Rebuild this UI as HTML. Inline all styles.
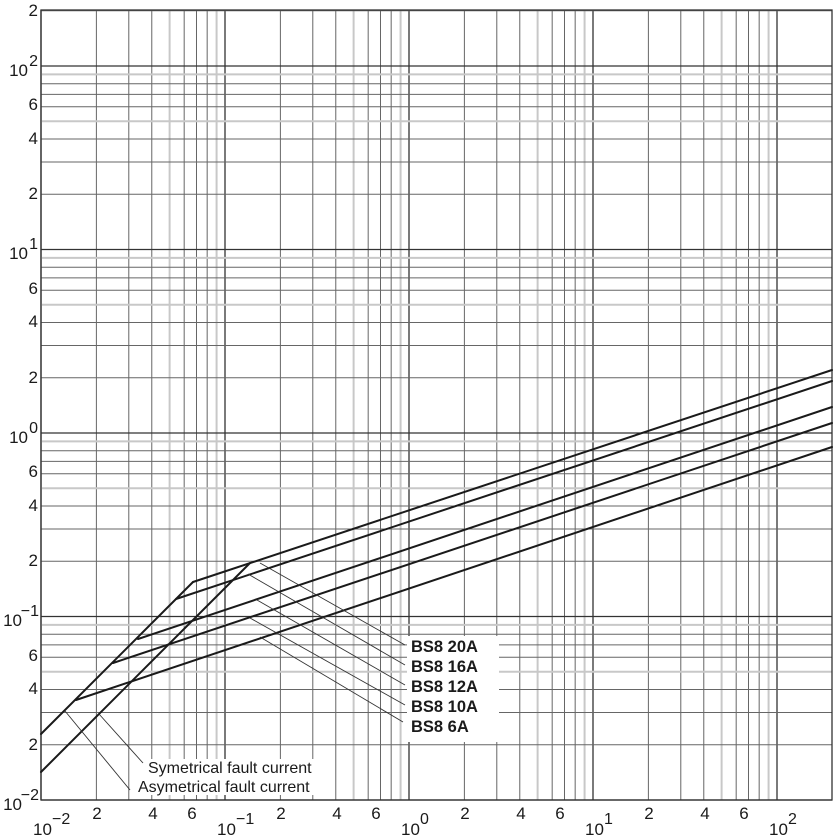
<!DOCTYPE html>
<html><head><meta charset="utf-8"><style>
html,body{margin:0;padding:0;background:#fff;}
svg{display:block;font-family:"Liberation Sans",Arial,sans-serif;}
</style></head><body>
<svg id="s" width="833" height="837" viewBox="0 0 833 837" xmlns="http://www.w3.org/2000/svg">
<g id="grid"></g>
<rect x="41" y="10" width="791" height="790" fill="none" stroke="#333" stroke-width="1.3"/>
<g stroke="#1a1a1a" stroke-width="2" fill="none" stroke-linecap="round">
<polyline points="41,734 193,582"/>
<polyline points="41,772 250,563"/>
<polyline points="193,582 832,370"/>
<polyline points="176,599 832,381"/>
<polyline points="138,639 832,407"/>
<polyline points="113,663 832,423"/>
<polyline points="76,700 832,447"/>
</g>
<g stroke="#333" stroke-width="0.9">
<line x1="260" y1="563" x2="405" y2="645"/>
<line x1="248" y1="574" x2="405" y2="665"/>
<line x1="257" y1="600" x2="405" y2="685"/>
<line x1="250" y1="618" x2="405" y2="705"/>
<line x1="260" y1="637" x2="403" y2="722"/>
<line x1="99" y1="714" x2="143" y2="763"/>
<line x1="65" y1="711" x2="130" y2="790"/>
</g>
<rect x="407" y="636" width="92" height="106" fill="#fff"/>
<g font-size="16.5" font-weight="bold" fill="#1a1a1a">
<text x="411" y="652">BS8 20A</text>
<text x="411" y="672">BS8 16A</text>
<text x="411" y="692">BS8 12A</text>
<text x="411" y="712">BS8 10A</text>
<text x="411" y="732">BS8 6A</text>
</g>
<g font-size="16" fill="#1a1a1a">
<rect x="145" y="759" width="172" height="36" fill="#fff"/>
<text x="148" y="773">Symetrical fault current</text>
<text x="138" y="792">Asymetrical fault current</text>
</g>
<g font-size="17" fill="#1a1a1a" text-anchor="end">
<text x="38" y="16">2</text>
<text x="28" y="76">10</text><text x="38" y="66" font-size="16">2</text>
<text x="38" y="110">6</text>
<text x="38" y="144">4</text>
<text x="38" y="199">2</text>
<text x="28" y="259">10</text><text x="38" y="249" font-size="16">1</text>
<text x="38" y="294">6</text>
<text x="38" y="327">4</text>
<text x="38" y="383">2</text>
<text x="28" y="443">10</text><text x="38" y="433" font-size="16">0</text>
<text x="38" y="477">6</text>
<text x="38" y="511">4</text>
<text x="38" y="566">2</text>
<text x="22" y="626">10</text><text x="39" y="616" font-size="16">−1</text>
<text x="38" y="661">6</text>
<text x="38" y="694">4</text>
<text x="38" y="750">2</text>
<text x="22" y="810">10</text><text x="39" y="800" font-size="16">−2</text>
</g>
<g font-size="17" fill="#1a1a1a" text-anchor="middle">
<text x="97" y="819">2</text><text x="153" y="819">4</text><text x="192" y="819">6</text>
<text x="281" y="819">2</text><text x="337" y="819">4</text><text x="376" y="819">6</text>
<text x="465" y="819">2</text><text x="521" y="819">4</text><text x="560" y="819">6</text>
<text x="649" y="819">2</text><text x="705" y="819">4</text><text x="744" y="819">6</text>
</g>
<g font-size="17" fill="#1a1a1a">
<text x="33" y="835">10</text><text x="52" y="824" font-size="16">−2</text>
<text x="217" y="835">10</text><text x="236" y="824" font-size="16">−1</text>
<text x="401" y="835">10</text><text x="420" y="824" font-size="16">0</text>
<text x="585" y="835">10</text><text x="604" y="824" font-size="16">1</text>
<text x="769" y="835">10</text><text x="788" y="824" font-size="16">2</text>
</g>
</svg>
<script>
(function(){
var g=document.getElementById('grid'),ns='http://www.w3.org/2000/svg';
function L(x1,y1,x2,y2,c,w){var l=document.createElementNS(ns,'line');l.setAttribute('x1',x1);l.setAttribute('y1',y1);l.setAttribute('x2',x2);l.setAttribute('y2',y2);l.setAttribute('stroke',c);l.setAttribute('stroke-width',w);g.appendChild(l);}
function sty(m){if(m==1)return ['#333',1.3];if(m==5||m==9)return ['#c8c8c8',2];return ['#666',1];}
for(var d=-2;d<=2;d++)for(var m=1;m<=9;m++){var x=41+184*(d+2+Math.log10(m));if(x>832)continue;var s=sty(m);L(x,10,x,800,s[0],s[1]);}
for(var d=-2;d<=2;d++)for(var m=1;m<=9;m++){var y=66+183.5*(2-d-Math.log10(m));if(y<10||y>800)continue;var s=sty(m);L(41,y,832,y,s[0],s[1]);}
})();
</script>
</body></html>
